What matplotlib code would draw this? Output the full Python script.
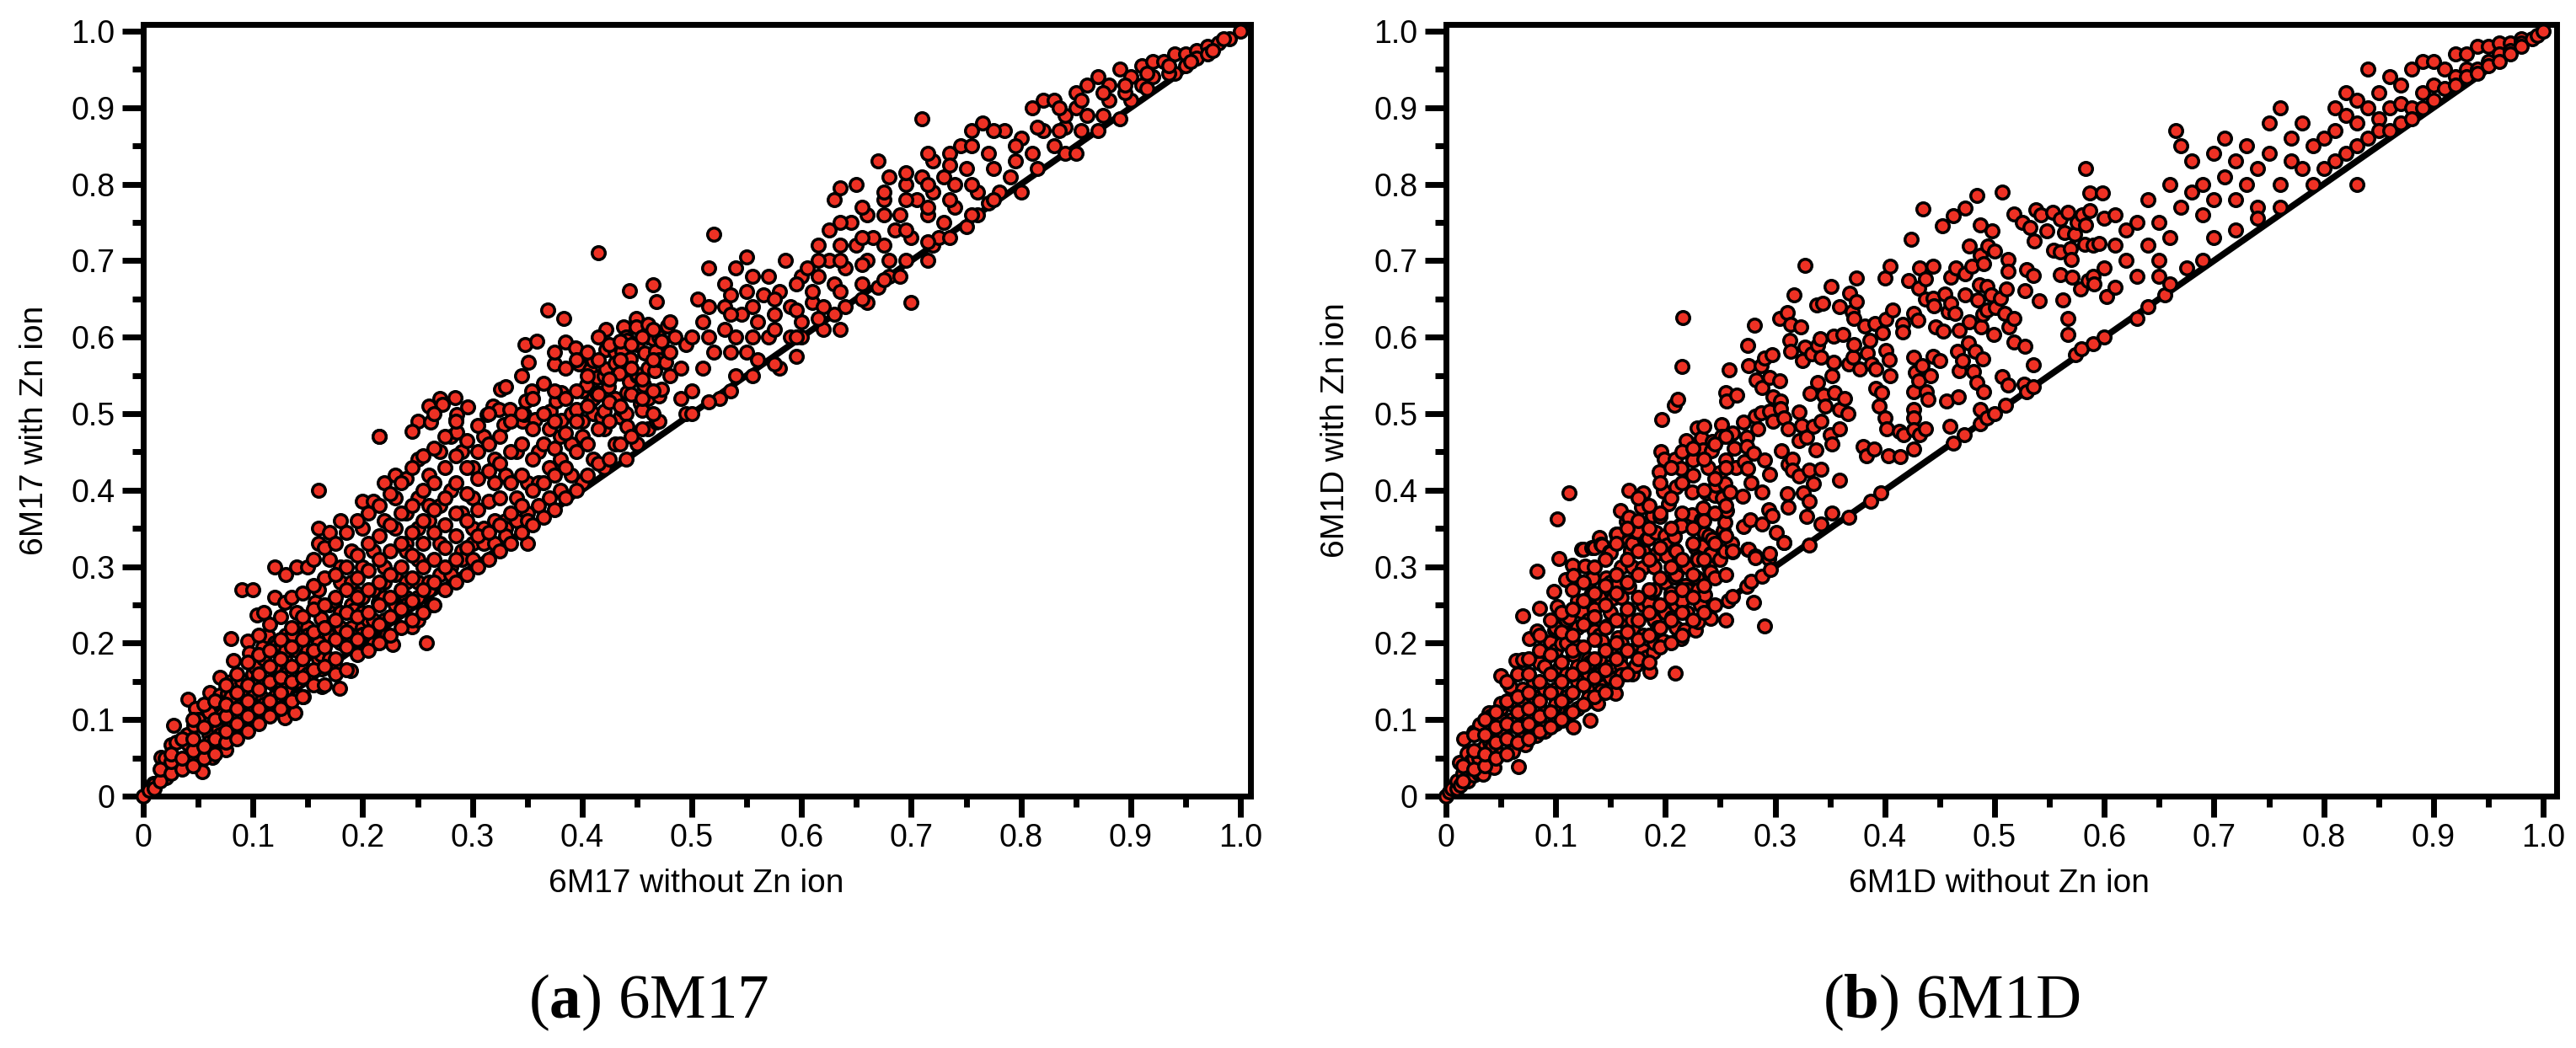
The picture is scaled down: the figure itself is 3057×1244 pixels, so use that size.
import matplotlib
matplotlib.use("Agg")
import matplotlib.pyplot as plt

W, H = 3057, 1244

plt.rcParams['font.family'] = ['Liberation Sans', 'DejaVu Sans']
plt.rcParams['mathtext.fontset'] = 'custom'
plt.rcParams['mathtext.rm'] = 'Liberation Serif'
plt.rcParams['mathtext.bf'] = 'Liberation Serif:bold'

tick_values = [0, 0.1, 0.2, 0.3, 0.4, 0.5, 0.6, 0.7, 0.8, 0.9, 1.0]
tick_labels = ["0", "0.1", "0.2", "0.3", "0.4", "0.5", "0.6", "0.7", "0.8", "0.9", "1.0"]
minor_values = [0.05, 0.15, 0.25, 0.35, 0.45, 0.55, 0.65, 0.75, 0.85, 0.95]
line_x = [0, 1]
line_y = [0, 1]

# 6M17 (without Zn, with Zn)
a_low = [
    (0, 0), (.005, .008), (.009, .017), (.01, .015), (.01, .01), (.016, .051), (.02, .03), (.02, .05), (.021, .024),
    (.025, .067), (.028, .092), (.03, .04), (.03, .07), (.031, .036), (.04, .05), (.04, .08), (.041, .127), (.041, .068),
    (.046, .092), (.048, .115), (.05, .06), (.05, .044), (.05, .10), (.054, .032), (.06, .08), (.06, .07), (.06, .11),
    (.061, .136), (.063, .051), (.068, .088), (.07, .155), (.07, .132), (.07, .08), (.07, .12), (.072, .107), (.075, .061),
    (.077, .134), (.08, .206), (.08, .09), (.08, .13), (.08, .15), (.082, .177), (.084, .107), (.09, .27), (.09, .10),
    (.09, .12), (.09, .15), (.092, .132), (.095, .203), (.097, .187), (.099, .113), (.10, .27), (.10, .11), (.10, .13),
    (.10, .16), (.102, .168), (.104, .237), (.104, .151), (.109, .195), (.109, .128), (.11, .24), (.11, .12), (.11, .15),
    (.11, .18), (.114, .209), (.119, .169), (.119, .147), (.12, .30), (.12, .26), (.12, .13), (.12, .15), (.12, .17),
    (.12, .20), (.121, .197), (.127, .147), (.129, .253), (.129, .180), (.129, .102), (.13, .29), (.13, .21), (.13, .14),
    (.13, .16), (.13, .19), (.136, .212), (.138, .109), (.14, .30), (.14, .24), (.14, .19), (.14, .15), (.14, .17),
    (.146, .164), (.146, .130), (.147, .224), (.148, .186), (.15, .30), (.15, .22), (.15, .16), (.15, .19), (.15, .21),
    (.157, .253), (.158, .209), (.16, .40), (.16, .35), (.16, .33), (.16, .27), (.16, .20), (.16, .18), (.162, .232),
    (.162, .185), (.163, .166), (.163, .143), (.17, .345), (.17, .31), (.17, .25), (.17, .21), (.17, .18), (.174, .255),
    (.175, .168), (.179, .218), (.179, .141), (.18, .36), (.18, .30), (.18, .28), (.18, .24), (.18, .22), (.18, .20),
    (.189, .164), (.19, .32), (.19, .28), (.19, .25), (.19, .22), (.19, .21), (.190, .201), (.192, .243), (.196, .264),
    (.20, .385), (.20, .35), (.20, .30), (.20, .26), (.20, .24), (.20, .22), (.200, .212), (.205, .230), (.21, .385),
    (.21, .32), (.21, .27), (.21, .23), (.210, .199), (.214, .253), (.215, .47), (.22, .41), (.22, .36), (.22, .30),
    (.22, .28), (.22, .26), (.22, .23), (.222, .212), (.227, .198), (.23, .42), (.23, .39), (.23, .35), (.23, .29),
    (.23, .25), (.237, .251), (.24, .415), (.24, .37), (.24, .33), (.24, .32), (.24, .28), (.24, .26), (.24, .25),
    (.245, .221), (.25, .49), (.25, .44), (.25, .39), (.25, .35), (.25, .31), (.25, .28), (.25, .26), (.25, .23),
    (.258, .200), (.26, .51), (.26, .42), (.26, .38), (.26, .36), (.26, .28), (.26, .27), (.263, .250),
]
a_mid = [
    (.215, .470), (.245, .477), (.262, .489), (.27, .52), (.27, .45), (.27, .38), (.27, .33), (.27, .29), (.273, .512),
    (.28, .47), (.28, .40), (.28, .30), (.28, .29), (.284, .521), (.285, .492), (.286, .499), (.286, .476), (.29, .45),
    (.29, .37), (.29, .32), (.29, .31), (.296, .509), (.30, .43), (.30, .39), (.30, .35), (.30, .33), (.30, .31),
    (.31, .47), (.31, .35), (.31, .33), (.313, .499), (.319, .510), (.32, .44), (.32, .41), (.32, .36), (.32, .33),
    (.324, .505), (.326, .532), (.329, .486), (.33, .535), (.33, .42), (.33, .36), (.33, .35), (.33, .34), (.334, .505),
    (.34, .45), (.34, .39), (.34, .36), (.346, .490), (.347, .499), (.348, .590), (.349, .517), (.35, .41), (.35, .37),
    (.35, .36), (.35, .33), (.351, .567), (.354, .530), (.357, .492), (.359, .595), (.36, .45), (.36, .41), (.36, .38),
    (.369, .635), (.37, .48), (.37, .43), (.37, .39), (.371, .503), (.375, .565), (.376, .516), (.38, .47), (.38, .44),
    (.38, .40), (.381, .528), (.381, .491), (.383, .625), (.385, .594), (.39, .50), (.39, .46), (.39, .42), (.394, .586),
    (.395, .505), (.397, .565), (.40, .53), (.40, .490), (.40, .47), (.40, .41), (.404, .537), (.406, .512), (.407, .557),
    (.41, .569), (.41, .52), (.41, .50), (.41, .44), (.413, .528), (.414, .547), (.415, .710), (.418, .496), (.42, .503),
    (.42, .55), (.42, .48), (.42, .43), (.422, .610), (.422, .584), (.422, .558), (.424, .535), (.43, .58), (.43, .566),
    (.43, .52), (.43, .46), (.434, .553), (.435, .496), (.436, .582), (.436, .505), (.438, .613), (.44, .60), (.44, .50),
    (.44, .44), (.441, .596), (.441, .527), (.441, .484), (.443, .661), (.443, .542), (.444, .572), (.449, .624),
    (.449, .613), (.45, .59), (.45, .55), (.45, .46), (.450, .552), (.453, .513), (.455, .504), (.456, .537), (.457, .579),
    (.46, .617), (.46, .60), (.46, .56), (.46, .52), (.46, .48), (.465, .669), (.465, .598), (.466, .556), (.467, .582),
    (.468, .646), (.468, .489), (.47, .60), (.47, .57), (.47, .53), (.47, .49), (.470, .523), (.472, .595), (.472, .532),
    (.476, .567), (.478, .615), (.48, .62), (.48, .58), (.48, .55), (.485, .60), (.49, .56), (.49, .52), (.495, .59),
    (.495, .50), (.50, .50), (.50, .53), (.50, .60), (.505, .65), (.51, .56), (.51, .62), (.515, .69), (.52, .735),
    (.52, .58), (.525, .52), (.53, .61), (.53, .64), (.53, .67), (.54, .55), (.54, .60), (.54, .69), (.545, .63),
    (.55, .58), (.55, .66), (.55, .705),
]
a_high = [
    (.56, .57), (.56, .62), (.565, .655), (.57, .60), (.57, .68), (.575, .63), (.58, .56), (.58, .66), (.585, .70),
    (.59, .60), (.59, .64), (.595, .575), (.60, .62), (.60, .68), (.60, .60), (.605, .69), (.61, .645), (.61, .66),
    (.615, .72), (.62, .61), (.62, .64), (.625, .70), (.625, .74), (.63, .67), (.63, .78), (.63, .63), (.635, .72),
    (.635, .795), (.64, .64), (.64, .69), (.645, .75), (.65, .72), (.65, .80), (.655, .67), (.66, .70), (.66, .76),
    (.66, .645), (.665, .73), (.67, .83), (.67, .665), (.675, .78), (.68, .70), (.68, .81), (.68, .68), (.685, .74),
    (.69, .76), (.69, .68), (.695, .80), (.70, .73), (.70, .645), (.705, .78), (.71, .885), (.71, .81), (.715, .70),
    (.715, .76), (.72, .83), (.72, .79), (.72, .72), (.725, .73), (.73, .81), (.73, .75), (.735, .84), (.74, .80),
    (.74, .77), (.745, .85), (.75, .745), (.75, .82), (.755, .87), (.76, .79), (.76, .76), (.765, .88), (.77, .84),
    (.77, .775), (.78, .79), (.785, .87), (.79, .81), (.80, .79), (.80, .86), (.81, .90), (.81, .84), (.82, .91),
    (.82, .87), (.83, .91), (.83, .85), (.84, .875), (.84, .89), (.84, .84), (.85, .84), (.85, .90), (.85, .92),
    (.86, .93), (.86, .89), (.87, .94), (.87, .87), (.88, .91), (.88, .93), (.89, .95), (.89, .885), (.90, .94),
    (.90, .91), (.91, .955), (.91, .93), (.92, .96), (.92, .94), (.93, .96), (.94, .97), (.94, .945), (.95, .97),
    (.95, .955), (.96, .975), (.96, .965), (.97, .98), (.97, .97), (.98, .985), (.99, .99), (1, 1),
]
# columns of the solid part of the 6M17 cloud: without Zn, then the with Zn values there
a_dense = [
    (.015, [.02, .035]), (.025, [.03, .045, .055]), (.035, [.035, .05, .075]), (.045, [.04, .06, .075, .10]),
    (.055, [.05, .065, .09, .12]), (.065, [.055, .075, .10, .125]), (.075, [.07, .085, .105, .12, .145]),
    (.085, [.075, .095, .115, .135, .16]), (.095, [.085, .105, .125, .145, .175]),
    (.105, [.095, .115, .14, .16, .185, .21]), (.115, [.105, .125, .15, .17, .19, .225]),
    (.125, [.115, .135, .155, .18, .205, .235]), (.135, [.125, .15, .17, .195, .22, .26]),
    (.145, [.13, .155, .18, .205, .235, .265]), (.155, [.145, .165, .19, .215, .245, .275, .31]),
    (.165, [.145, .17, .195, .22, .25, .285, .325]), (.175, [.16, .18, .205, .23, .26, .29, .33]),
    (.185, [.165, .195, .215, .24, .27, .30, .345]), (.195, [.185, .205, .235, .26, .285, .315, .36]),
    (.205, [.19, .215, .24, .27, .295, .33, .37]), (.215, [.20, .225, .25, .28, .31, .34, .38]),
    (.225, [.21, .235, .26, .29, .32, .355, .395]), (.235, [.22, .245, .27, .30, .33, .37, .41]),
    (.245, [.23, .255, .285, .315, .345, .38, .43]), (.255, [.24, .27, .30, .33, .36, .40, .445]),
    (.265, [.25, .28, .31, .345, .375, .41, .455, .50]), (.275, [.27, .30, .325, .355, .39, .43, .47]),
    (.285, [.28, .31, .34, .37, .41, .445, .49]), (.295, [.29, .325, .36, .395, .43, .465]),
    (.305, [.30, .34, .375, .415, .45, .485]), (.315, [.31, .345, .385, .425, .46, .50]),
    (.325, [.32, .355, .39, .435, .47]), (.335, [.33, .37, .41, .45, .49]), (.345, [.345, .38, .42, .46, .50, .55]),
    (.355, [.355, .40, .44, .48, .52]), (.365, [.365, .41, .46, .50, .54]), (.375, [.375, .42, .455, .49, .53, .58]),
    (.385, [.39, .43, .475, .52, .56]), (.395, [.40, .45, .49, .53, .57]), (.405, [.42, .46, .51, .55, .58]),
    (.415, [.435, .48, .525, .57, .60]), (.425, [.44, .49, .515, .545, .59]), (.435, [.46, .51, .57, .595]),
    (.445, [.47, .525, .56, .59]), (.455, [.48, .52, .545, .60]), (.465, [.50, .53, .57, .61]),
    (.515, [.515, .60, .64]), (.535, [.53, .58, .63, .655]), (.555, [.55, .60, .64, .68]), (.575, [.565, .61, .65]),
    (.595, [.60, .635, .67]), (.615, [.625, .68, .70]), (.635, [.61, .66, .70, .75]), (.655, [.65, .695, .73, .77]),
    (.675, [.675, .72, .76, .79]), (.695, [.70, .74, .78, .815]), (.715, [.725, .77, .80, .84]),
    (.735, [.73, .78, .825]), (.755, [.76, .80, .85]), (.775, [.78, .82, .87]), (.795, [.83, .85]),
    (.815, [.82, .875]), (.835, [.87, .90]), (.855, [.87, .91]), (.875, [.89, .92]), (.895, [.92, .93]),
    (.915, [.925, .945]), (.935, [.945, .955]), (.955, [.96]), (.975, [.975]), (.985, [.99]),
]

# 6M1D (without Zn, with Zn)
b_low = [
    (0, 0), (.003, .006), (.005, .01), (.01, .01), (.01, .02), (.012, .044), (.013, .014), (.015, .03), (.016, .075),
    (.019, .056), (.02, .02), (.02, .03), (.02, .04), (.023, .046), (.025, .05), (.025, .028), (.025, .084), (.03, .03),
    (.03, .05), (.03, .06), (.031, .094), (.034, .029), (.034, .058), (.035, .065), (.038, .078), (.039, .109), (.04, .04),
    (.04, .05), (.04, .07), (.04, .085), (.041, .105), (.042, .066), (.044, .037), (.045, .09), (.05, .055), (.05, .08),
    (.05, .10), (.05, .115), (.05, .121), (.05, .157), (.053, .081), (.058, .143), (.06, .06), (.06, .07), (.06, .10),
    (.06, .12), (.061, .058), (.062, .095), (.064, .177), (.066, .039), (.07, .07), (.07, .08), (.07, .10), (.07, .12),
    (.07, .14), (.07, .178), (.070, .236), (.071, .093), (.072, .067), (.076, .206), (.08, .08), (.08, .10), (.08, .13),
    (.08, .15), (.082, .079), (.083, .216), (.083, .294), (.085, .174), (.085, .246), (.09, .085), (.09, .09), (.09, .11),
    (.09, .14), (.09, .17), (.095, .201), (.098, .268), (.099, .217), (.10, .095), (.10, .10), (.10, .12), (.10, .14),
    (.10, .16), (.10, .19), (.10, .22), (.101, .248), (.101, .362), (.103, .311), (.104, .169), (.105, .199), (.106, .099),
    (.108, .214), (.109, .283), (.11, .10), (.11, .11), (.11, .13), (.11, .16), (.11, .20), (.11, .23), (.112, .396),
    (.112, .234), (.113, .109), (.115, .302), (.116, .090), (.116, .185), (.116, .289), (.119, .196), (.12, .115),
    (.12, .15), (.12, .17), (.12, .22), (.12, .25), (.120, .255), (.124, .241), (.124, .323), (.125, .323), (.127, .301),
    (.129, .149), (.13, .125), (.13, .14), (.13, .16), (.13, .18), (.13, .23), (.13, .28), (.130, .129), (.131, .099),
    (.131, .175), (.132, .263), (.133, .325), (.134, .285), (.135, .216), (.135, .244), (.135, .325), (.138, .121),
    (.14, .145), (.14, .16), (.14, .18), (.14, .21), (.14, .26), (.140, .338), (.141, .138), (.141, .329), (.142, .203),
    (.142, .328), (.146, .285), (.147, .222), (.149, .319), (.15, .155), (.15, .17), (.15, .19), (.15, .24), (.15, .28),
    (.150, .318), (.152, .259), (.154, .134), (.155, .343), (.156, .343), (.157, .207), (.157, .277), (.158, .180),
    (.159, .373), (.16, .17), (.16, .20), (.16, .23), (.16, .26), (.16, .30), (.160, .159), (.164, .359), (.166, .244),
    (.166, .333), (.167, .400), (.167, .365), (.167, .274), (.168, .320), (.168, .321), (.17, .19), (.17, .23), (.17, .30),
    (.17, .33), (.170, .160), (.171, .215), (.173, .171), (.173, .346), (.174, .346), (.178, .378), (.179, .298),
    (.18, .19), (.18, .21), (.18, .25), (.18, .32), (.180, .396), (.183, .182), (.183, .336), (.184, .337), (.185, .252),
    (.186, .163), (.188, .266), (.188, .367), (.189, .188), (.19, .20), (.19, .23), (.19, .27), (.19, .30), (.191, .345),
    (.192, .317), (.193, .220), (.194, .424), (.195, .366), (.196, .450), (.197, .492), (.198, .399), (.198, .203),
    (.199, .441), (.20, .24), (.20, .28), (.20, .34), (.201, .328), (.201, .316), (.201, .314), (.203, .382), (.205, .265),
    (.206, .234), (.208, .511), (.208, .339), (.208, .339), (.208, .286), (.209, .322), (.209, .440), (.209, .161),
]
b_mid = [
    (.21, .25), (.21, .29), (.21, .22), (.210, .321), (.210, .404), (.211, .519), (.213, .354), (.214, .428), (.214, .354),
    (.214, .206), (.215, .562), (.215, .303), (.215, .255), (.216, .626), (.217, .217), (.218, .275), (.219, .465),
    (.22, .24), (.22, .27), (.22, .30), (.224, .398), (.224, .368), (.225, .439), (.227, .325), (.227, .217), (.229, .481),
    (.229, .311), (.229, .285), (.23, .27), (.23, .31), (.230, .228), (.232, .250), (.233, .468), (.233, .361), (.234, .453),
    (.234, .377), (.234, .327), (.235, .483), (.235, .345), (.236, .344), (.236, .263), (.237, .396), (.239, .429),
    (.24, .30), (.24, .34), (.241, .317), (.241, .316), (.241, .293), (.241, .232), (.242, .451), (.243, .464), (.243, .336),
    (.245, .393), (.246, .406), (.25, .31), (.250, .423), (.251, .486), (.251, .470), (.252, .390), (.253, .346), (.253, .347),
    (.254, .409), (.254, .358), (.254, .321), (.255, .527), (.255, .439), (.255, .230), (.256, .517), (.256, .373),
    (.257, .255), (.258, .557), (.259, .398), (.26, .33), (.261, .475), (.261, .319), (.261, .320), (.261, .261),
    (.263, .455), (.264, .429), (.265, .524), (.270, .392), (.271, .489), (.271, .352), (.272, .437), (.274, .469),
    (.274, .457), (.274, .274), (.275, .589), (.275, .428), (.275, .323), (.276, .563), (.276, .323), (.277, .361),
    (.278, .410), (.278, .281), (.280, .448), (.280, .253), (.281, .616), (.282, .497), (.282, .314), (.282, .312),
    (.283, .544), (.284, .480), (.287, .563), (.287, .501), (.288, .534), (.288, .398), (.288, .356), (.288, .287),
    (.290, .573), (.290, .439), (.290, .222), (.294, .375), (.294, .311), (.295, .547), (.295, .503), (.295, .421),
    (.295, .317), (.296, .296), (.297, .577), (.297, .367), (.298, .522), (.298, .490), (.301, .345), (.304, .624),
    (.304, .543), (.305, .516), (.305, .507), (.306, .452), (.308, .494), (.308, .332), (.308, .332), (.311, .632),
    (.311, .395), (.312, .480), (.312, .434), (.312, .378), (.313, .596), (.314, .617), (.314, .581), (.316, .440),
    (.316, .426), (.317, .655), (.322, .502), (.322, .465), (.322, .418), (.323, .613), (.324, .485), (.325, .569),
    (.326, .396), (.327, .694), (.327, .587), (.329, .469), (.329, .366), (.331, .426), (.331, .385), (.331, .328),
    (.332, .526), (.333, .578), (.335, .483), (.335, .409), (.337, .453), (.338, .642), (.339, .589), (.339, .541),
    (.341, .598), (.342, .574), (.342, .490), (.342, .427), (.342, .356), (.343, .644), (.344, .524), (.346, .510),
    (.350, .472), (.351, .666), (.352, .550), (.352, .460), (.352, .370), (.353, .601), (.353, .567), (.354, .527),
    (.359, .640), (.359, .505), (.359, .480), (.359, .413), (.362, .604), (.363, .520), (.366, .500), (.367, .565),
    (.367, .365), (.368, .658), (.370, .633), (.371, .574), (.372, .624), (.372, .590), (.374, .677), (.374, .646),
    (.377, .558), (.380, .457), (.382, .614), (.383, .445), (.384, .579), (.386, .596), (.387, .386), (.388, .565),
    (.390, .454), (.391, .618), (.392, .558), (.392, .533), (.395, .510), (.396, .397), (.397, .527), (.398, .606),
    (.400, .677), (.400, .494), (.401, .623), (.401, .583), (.402, .480), (.403, .445), (.404, .570), (.405, .693),
    (.405, .550), (.407, .636), (.413, .477), (.414, .444), (.416, .617), (.416, .607), (.417, .472),
]
b_high = [
    (.422, .674), (.424, .728), (.426, .631), (.426, .574), (.426, .529), (.426, .506), (.426, .494), (.426, .479),
    (.426, .454), (.428, .554), (.430, .622), (.431, .664), (.431, .543), (.432, .690), (.432, .472), (.434, .563),
    (.435, .768), (.437, .676), (.437, .650), (.437, .480), (.438, .529), (.439, .519), (.442, .550), (.444, .693),
    (.444, .651), (.444, .575), (.445, .641), (.446, .613), (.450, .569), (.452, .746), (.453, .608), (.455, .656),
    (.456, .517), (.458, .633), (.459, .483), (.460, .678), (.460, .644), (.462, .759), (.462, .462), (.464, .631),
    (.465, .690), (.466, .582), (.467, .522), (.468, .609), (.468, .556), (.471, .569), (.472, .472), (.473, .769),
    (.473, .683), (.473, .655), (.476, .593), (.477, .719), (.477, .620), (.479, .693), (.481, .555), (.482, .582),
    (.484, .785), (.484, .541), (.485, .649), (.486, .668), (.487, .747), (.487, .707), (.487, .506), (.487, .487),
    (.488, .613), (.489, .630), (.489, .572), (.490, .696), (.490, .529), (.493, .666), (.493, .635), (.493, .494),
    (.494, .719), (.497, .655), (.498, .739), (.499, .603), (.500, .713), (.500, .500), (.501, .639), (.505, .651),
    (.507, .790), (.507, .549), (.509, .631), (.510, .511), (.511, .663), (.512, .701), (.512, .686), (.512, .537),
    (.513, .613), (.518, .761), (.518, .624), (.518, .594), (.525, .750), (.527, .538), (.528, .661), (.528, .588),
    (.529, .688), (.529, .529), (.532, .743), (.535, .681), (.535, .564), (.535, .535), (.536, .726), (.538, .766),
    (.541, .648), (.542, .760), (.548, .739), (.553, .763), (.554, .714), (.560, .754), (.560, .712), (.560, .682),
    (.562, .649), (.564, .737), (.567, .763), (.567, .625), (.567, .604), (.569, .716), (.570, .702), (.571, .678),
    (.573, .735), (.574, .577), (.575, .75), (.578, .663), (.579, .585), (.58, .76), (.582, .721), (.583, .820),
    (.583, .747), (.585, .674), (.587, .788), (.587, .765), (.59, .72), (.59, .68), (.59, .591), (.591, .670), (.595, .722),
    (.598, .789), (.60, .755), (.60, .69), (.60, .60), (.602, .653), (.61, .76), (.61, .72), (.61, .665), (.62, .74),
    (.62, .70), (.63, .75), (.63, .68), (.63, .625), (.64, .78), (.64, .72), (.64, .64), (.65, .75), (.65, .70), (.65, .68),
    (.655, .655), (.66, .80), (.66, .73), (.66, .67), (.665, .87), (.67, .85), (.67, .77), (.675, .69), (.68, .83),
    (.68, .79), (.69, .80), (.69, .76), (.69, .70), (.70, .84), (.70, .78), (.70, .73), (.71, .86), (.71, .81), (.72, .83),
    (.72, .78), (.72, .74), (.73, .85), (.73, .80), (.74, .82), (.74, .77), (.74, .755), (.75, .88), (.75, .84), (.76, .90),
    (.76, .80), (.76, .77), (.77, .86), (.77, .83), (.78, .88), (.78, .82), (.79, .85), (.79, .80), (.80, .86), (.80, .82),
    (.81, .90), (.81, .87), (.81, .83), (.82, .92), (.82, .89), (.82, .84), (.83, .91), (.83, .88), (.83, .85), (.83, .80),
    (.84, .95), (.84, .90), (.84, .86), (.85, .92), (.85, .885), (.85, .87), (.86, .94), (.86, .90), (.86, .87), (.87, .93),
    (.87, .905), (.87, .88), (.88, .95), (.88, .90), (.88, .885), (.89, .96), (.89, .92), (.89, .90), (.90, .96), (.90, .93),
    (.90, .91), (.91, .95), (.91, .925), (.92, .97), (.92, .94), (.92, .93), (.93, .97), (.93, .95), (.93, .94), (.94, .98),
    (.94, .95), (.94, .945), (.95, .98), (.95, .96), (.95, .955), (.96, .985), (.96, .97), (.96, .96), (.97, .985),
    (.97, .975), (.97, .97), (.98, .99), (.98, .985), (.98, .98), (.99, .99), (.995, .995), (1, 1),
]
# columns of the solid part of the 6M1D cloud
b_dense = [
    (.015, [.02, .04]), (.025, [.035, .06, .08]), (.035, [.04, .055, .08, .10]), (.045, [.05, .07, .09, .11]),
    (.055, [.055, .075, .095, .125, .15]), (.065, [.07, .09, .11, .13, .16]), (.075, [.075, .095, .115, .135, .16, .18]),
    (.085, [.085, .105, .125, .15, .19, .21]), (.095, [.09, .11, .135, .16, .185, .23]),
    (.105, [.10, .125, .15, .175, .215, .24]), (.115, [.11, .135, .16, .19, .21, .245, .27]),
    (.125, [.12, .145, .17, .195, .225, .255, .28]), (.135, [.13, .155, .18, .205, .235, .265, .30]),
    (.145, [.135, .165, .19, .22, .25, .275, .31]), (.155, [.15, .18, .20, .23, .265, .29, .33]),
    (.165, [.16, .19, .215, .245, .28, .31, .35]), (.175, [.18, .205, .23, .26, .29, .32, .36, .39]),
    (.185, [.175, .21, .24, .27, .31, .35, .38]), (.195, [.195, .22, .25, .285, .325, .37, .41]),
    (.205, [.20, .23, .26, .30, .35, .39, .43]), (.215, [.21, .24, .27, .31, .37, .41, .45]),
    (.225, [.23, .26, .29, .33, .35, .42, .455]), (.235, [.24, .275, .31, .36, .40, .44]),
    (.245, [.25, .285, .33, .37, .415, .46]), (.255, [.29, .34, .38, .43, .47]),
]


def flatten(columns):
    out = []
    for x, ys in columns:
        for y in ys:
            out.append((x, y))
    return out


def draw_panel(left_px, right_px, points, xlabel, ylabel, ylabel_px, caption, xlabel_px, caption_px):
    top_px, bottom_px = 29, 945
    ax = fig.add_axes([left_px / W, 1 - bottom_px / H, (right_px - left_px) / W, (bottom_px - top_px) / H])
    ax.set_xlim(0, (right_px - left_px) / 1302)
    ax.set_ylim(0, (bottom_px - top_px) / 908)
    ax.plot(line_x, line_y, color="black", linewidth=5.5, zorder=2, solid_capstyle="butt")
    px = [p[0] for p in points]
    py = [p[1] for p in points]
    ax.scatter(px, py, s=125, facecolor="#EE3124", edgecolor="black", linewidth=2.5, zorder=3, clip_on=False)
    ax.set_xticks(tick_values)
    ax.set_xticklabels(tick_labels)
    ax.set_yticks(tick_values)
    ax.set_yticklabels(tick_labels)
    ax.set_xticks(minor_values, minor=True)
    ax.set_yticks(minor_values, minor=True)
    ax.tick_params(axis="both", which="major", length=18, width=5, labelsize=27)
    ax.tick_params(axis="both", which="minor", length=9.5, width=5)
    ax.tick_params(axis="x", which="major", pad=5)
    ax.tick_params(axis="y", which="major", pad=6)
    for s in ax.spines.values():
        s.set_linewidth(5)
    fig.text(xlabel_px / W, 1 - 1049 / H, xlabel, fontsize=28, ha="center", va="center")
    fig.text(ylabel_px / W, 1 - 511 / H, ylabel, fontsize=28, rotation=90, ha="center", va="center")
    fig.text(caption_px / W, 1 - 1190 / H, caption, fontsize=54, ha="center", va="center",
             family="Liberation Serif")


fig = plt.figure(figsize=(W / 100, H / 100), dpi=100)
draw_panel(170, 1484, a_low + a_mid + a_high + flatten(a_dense), "6M17 without Zn ion", "6M17 with Zn ion", 41,
           r"($\mathbf{a}$) 6M17", 826, 770)
draw_panel(1716, 3034, b_low + b_mid + b_high + flatten(b_dense), "6M1D without Zn ion", "6M1D with Zn ion", 1585,
           r"($\mathbf{b}$) 6M1D", 2372, 2316)
plt.savefig("out.png", dpi=100)
